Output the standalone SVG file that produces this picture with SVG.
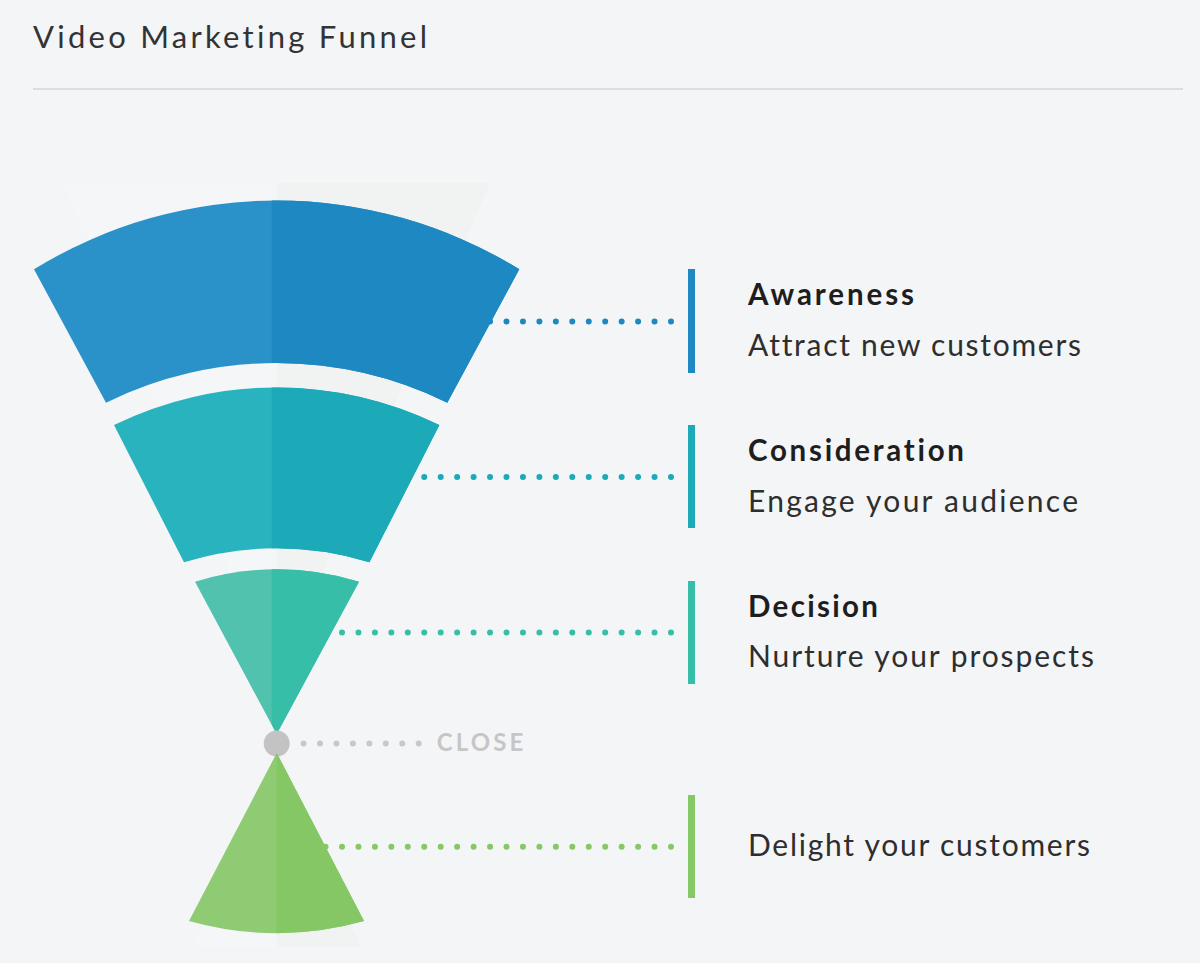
<svg xmlns="http://www.w3.org/2000/svg" width="1200" height="963" viewBox="0 0 1200 963">
  <defs>
    <style>
      text{font-variant-ligatures:none;font-feature-settings:"liga" 0,"clig" 0;}
      .title{font-family:Lato,"Noto Sans","Liberation Sans",sans-serif;font-size:31px;fill:#333;}
      .head{font-family:Lato,"Noto Sans","Liberation Sans",sans-serif;font-size:29.5px;font-weight:700;fill:#1e1e1e;}
      .sub{font-family:Lato,"Noto Sans","Liberation Sans",sans-serif;font-size:30px;fill:#2e2e2e;}
      .close{font-family:Lato,"Noto Sans","Liberation Sans",sans-serif;font-size:24px;font-weight:700;fill:#c6c6c6;}
      .dots{stroke-width:6;stroke-linecap:round;stroke-dasharray:0 16.45;fill:none;}
    </style>
    <clipPath id="rightHalf"><rect x="271.7" y="150" width="400" height="813"/></clipPath>
    <clipPath id="rightHalfG"><rect x="276.7" y="150" width="400" height="813"/></clipPath>
    <path id="seg1" d="M34,269.3 A462.5,462.5 0 0 1 519.3,269.3 L447.3,402.7 A386.8,386.8 0 0 0 106,402.7 Z"/>
    <path id="seg2" d="M114,425 A370.8,370.8 0 0 1 439.4,425 L369.4,562.3 A312.6,312.6 0 0 0 184,562.3 Z"/>
    <path id="seg3" d="M195,581.7 A277,277 0 0 1 359,581.7 L276.7,734 Z"/>
    <path id="seg4" d="M276.7,753 L364,921 A325,325 0 0 1 189,921 Z"/>
  </defs>
  <rect width="1200" height="963" fill="#f4f5f7"/>
  <text class="title" x="33" y="47.5" textLength="394" lengthAdjust="spacing">Video Marketing Funnel</text>
  <line x1="33" y1="89" x2="1183" y2="89" stroke="#d4d5d8" stroke-width="1.5"/>

  <g id="backdrop">
    <polygon points="63,183 276.7,183 276.7,679" fill="#f5f6f7"/>
    <polygon points="276.7,183 490,183 276.7,679" fill="#f1f2f2"/>
    <polygon points="276.7,745 193,947 276.7,947" fill="#f5f6f7"/>
    <polygon points="276.7,745 360,947 276.7,947" fill="#f1f2f2"/>
  </g>

  <g id="connectors">
    <line class="dots" x1="671" y1="321.5" x2="455" y2="321.5" stroke="#1e88c3"/>
    <line class="dots" x1="671" y1="477" x2="400" y2="477" stroke="#1ca9b8"/>
    <line class="dots" x1="671" y1="632.5" x2="330" y2="632.5" stroke="#37bea9"/>
    <line class="dots" x1="418.7" y1="743.5" x2="303" y2="743.5" stroke="#c8c8c8"/>
    <line class="dots" x1="671" y1="846.7" x2="320" y2="846.7" stroke="#86c866"/>
  </g>

  <g id="awareness">
    <use href="#seg1" fill="#2b92c9"/>
    <use href="#seg1" fill="#1e88c3" clip-path="url(#rightHalf)"/>
    <rect x="688" y="269" width="7" height="104" fill="#1e88c3"/>
    <text class="head" x="748" y="305" textLength="166" lengthAdjust="spacing">Awareness</text>
    <text class="sub" x="748" y="356" textLength="333" lengthAdjust="spacing">Attract new customers</text>
  </g>

  <g id="consideration">
    <use href="#seg2" fill="#29b3be"/>
    <use href="#seg2" fill="#1ca9b8" clip-path="url(#rightHalf)"/>
    <rect x="688" y="425" width="7" height="103" fill="#1ca9b8"/>
    <text class="head" x="748" y="461" textLength="216" lengthAdjust="spacing">Consideration</text>
    <text class="sub" x="748" y="512" textLength="330" lengthAdjust="spacing">Engage your audience</text>
  </g>

  <g id="decision">
    <use href="#seg3" fill="#50c2ae"/>
    <use href="#seg3" fill="#37bea9" clip-path="url(#rightHalf)"/>
    <rect x="688" y="581" width="7" height="103" fill="#37bea9"/>
    <text class="head" x="748" y="617" textLength="130" lengthAdjust="spacing">Decision</text>
    <text class="sub" x="748" y="667" textLength="346" lengthAdjust="spacing">Nurture your prospects</text>
  </g>

  <g id="close">
    <circle cx="276.7" cy="743.5" r="13" fill="#c3c3c3"/>
    <text class="close" x="436.7" y="750.7" textLength="86.6" lengthAdjust="spacing">CLOSE</text>
  </g>

  <g id="delight">
    <use href="#seg4" fill="#8fcb72"/>
    <use href="#seg4" fill="#85c765" clip-path="url(#rightHalfG)"/>
    <rect x="688" y="795" width="7" height="103" fill="#86c866"/>
    <text class="sub" x="748" y="856" textLength="342" lengthAdjust="spacing">Delight your customers</text>
  </g>
</svg>
